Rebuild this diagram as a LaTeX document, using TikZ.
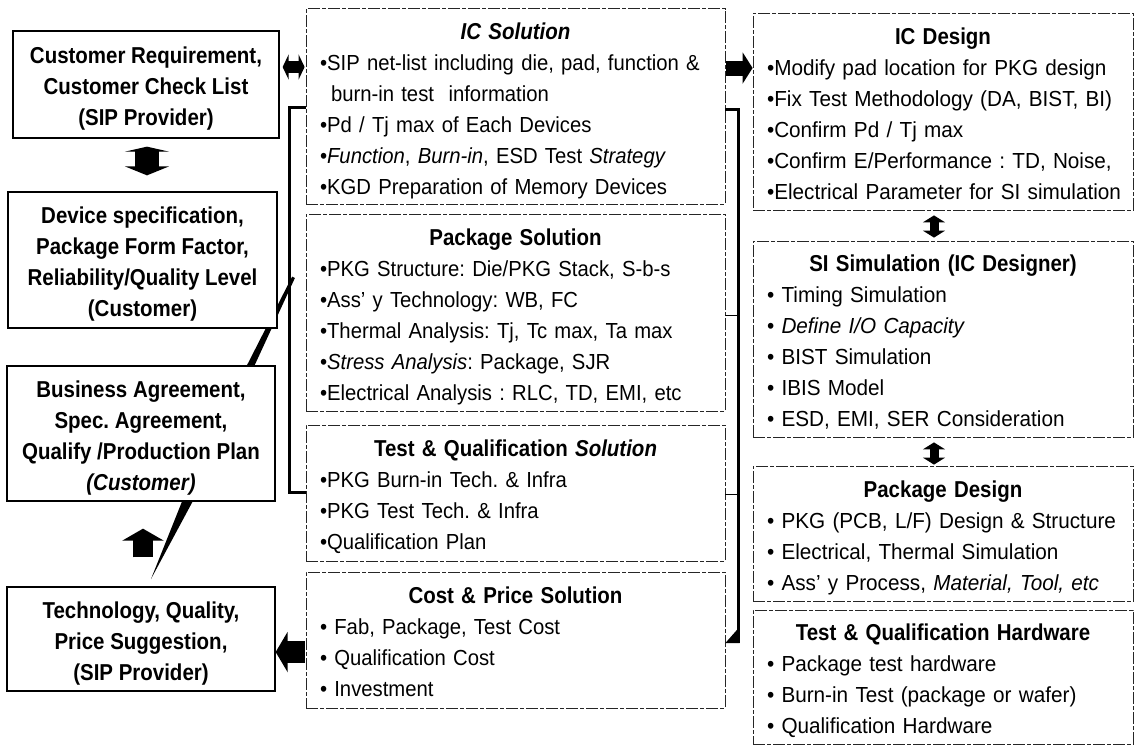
\documentclass[tikz,border=0pt]{standalone}
\usepackage{fontspec}
\setmainfont{Liberation Sans}
\newfontfamily\lbfam[FakeStretch=0.89]{Liberation Sans}
\newfontfamily\mfam[FakeStretch=0.93]{Liberation Sans}
\newfontfamily\rfam[FakeStretch=0.95]{Liberation Sans}
\usetikzlibrary{arrows.meta}
\setlength{\parindent}{0pt}
\frenchspacing
\newcommand{\topst}{\rule{0pt}{25.5pt}}
\newcommand{\dn}{\rule[-5pt]{0pt}{5pt}}
\newcommand{\bt}[1]{{\centering\fontsize{23}{31}\lbfam\bfseries\topst #1\par}}
\begin{document}
\begin{tikzpicture}[x=1pt,y=-1pt,
  lbox/.style={draw, line width=1.3pt, fill=white, inner sep=0pt, align=center,
    font=\fontsize{23}{31}\lbfam\bfseries},
  mbox/.style={draw=black!85, line width=0.8pt, dash pattern=on 12pt off 2pt on 4pt off 2pt,
    fill=white, inner xsep=14pt, inner ysep=0pt, align=left, minimum width=419pt,
    text width=391pt, font=\fontsize{21.8}{31}\mfam},
  rbox/.style={mbox, minimum width=380pt, text width=352pt, font=\fontsize{21.8}{31}\rfam},
  bracket/.style={line width=3pt, line join=miter},
  stub/.style={line width=1pt}]
\fill[white] (0,0) rectangle (1136,745);
\useasboundingbox (0,0) rectangle (1136,745);

% diagonal wedges (behind boxes)
\fill (292.1,276.6) -- (294.9,278.0) -- (253.1,368.6) -- (246.9,365.4) -- cycle;
\fill (183,499) -- (194,499) -- (151,579) -- cycle;

% left column
\node[lbox, minimum width=266pt, minimum height=107pt] (L1) at (146,84.5)
  {\topst Customer Requirement,\\Customer Check List\\(SIP Provider)\dn};
\node[lbox, minimum width=269pt, minimum height=136pt] (L2) at (142.5,260)
  {\topst Device specification,\\Package Form Factor,\\Reliability/Quality Level\\(Customer)\dn};
\node[lbox, minimum width=268pt, minimum height=135pt] (L3) at (141,433.5)
  {\topst Business Agreement,\\Spec. Agreement,\\Qualify /Production Plan\\\textit{(Customer)}\dn};
\node[lbox, minimum width=268pt, minimum height=104pt] (L4) at (141,639)
  {\topst Technology, Quality,\\Price Suggestion,\\(SIP Provider)\dn};

% middle column
\node[mbox, minimum height=195.5pt] (ics) at (515.5,106.25)
  {\bt{\itshape IC Solution}\mbox{•SIP net-list including die, pad, function \&}\\
   \mbox{\hspace*{11pt}burn-in test \ information}\\
   \mbox{•Pd / Tj max of Each Devices}\\
   \mbox{•\textit{Function}, \textit{Burn-in}, ESD Test \textit{Strategy}}\\
   \mbox{•KGD Preparation of Memory Devices}\dn};
\node[mbox, minimum height=197pt] (pks) at (515.5,312.5)
  {\bt{Package Solution}\mbox{•PKG Structure: Die/PKG Stack, S-b-s}\\
   \mbox{•Ass’ y Technology: WB, FC}\\
   \mbox{•Thermal Analysis: Tj, Tc max, Ta max}\\
   \mbox{•\textit{Stress Analysis}: Package, SJR}\\
   \mbox{•Electrical Analysis : RLC, TD, EMI, etc}\dn};
\node[mbox, minimum height=136pt] (tqs) at (515.5,493)
  {\bt{Test \& Qualification \textit{Solution}}\mbox{•PKG Burn-in Tech. \& Infra}\\
   \mbox{•PKG Test Tech. \& Infra}\\
   \mbox{•Qualification Plan}\dn};
\node[mbox, minimum height=136pt] (cps) at (515.5,640)
  {\bt{Cost \& Price Solution}\mbox{• Fab, Package, Test Cost}\\
   \mbox{• Qualification Cost}\\
   \mbox{• Investment}\dn};

% right column
\node[rbox, minimum height=197pt] (icd) at (943,111.5)
  {\bt{IC Design}\mbox{•Modify pad location for PKG design}\\
   \mbox{•Fix Test Methodology (DA, BIST, BI)}\\
   \mbox{•Confirm Pd / Tj max}\\
   \mbox{•Confirm E/Performance : TD, Noise,}\\
   \mbox{•Electrical Parameter for SI simulation}\dn};
\node[rbox, minimum height=196pt] (sis) at (943,339)
  {\bt{SI Simulation (IC Designer)}\mbox{• Timing Simulation}\\
   \mbox{• \textit{Define I/O Capacity}}\\
   \mbox{• BIST Simulation}\\
   \mbox{• IBIS Model}\\
   \mbox{• ESD, EMI, SER Consideration}\dn};
\node[rbox, minimum height=135pt] (pkd) at (943,533.5)
  {\bt{Package Design}\mbox{• PKG (PCB, L/F) Design \& Structure}\\
   \mbox{• Electrical, Thermal Simulation}\\
   \mbox{• Ass’ y Process, \textit{Material, Tool, etc}}\dn};
\node[rbox, minimum height=134pt] (tqh) at (943,677)
  {\bt{Test \& Qualification Hardware}\mbox{• Package test hardware}\\
   \mbox{• Burn-in Test (package or wafer)}\\
   \mbox{• Qualification Hardware}\dn};

% brackets
\coordinate (lb1) at (289,107);
\coordinate (lb2) at (289,492);
\draw[bracket] (ics.west |- lb1) -- (lb1) -- (lb2) -- (tqs.west |- lb2);
\coordinate (rb1) at (738,109);
\coordinate (rb2) at (738,643);
\draw[bracket] (ics.east |- rb1) -- (rb1) -- (rb2);
\coordinate (rb3) at (739.5,627);
\fill (rb3) -- (rb2 -| rb3) -- (cps.east |- rb2) -- cycle;
\coordinate (s1) at (738,315);
\coordinate (s2) at (738,494);
\draw[stub] (pks.east |- s1) -- (s1);
\draw[stub] (tqs.east |- s2) -- (s2);

% block arrows
\coordinate (a1) at (0,67);
\draw[line width=12pt, {Triangle[width=25pt,length=6pt]}-{Triangle[width=25pt,length=6pt]},
  shorten <=3pt, shorten >=1pt] (L1.east |- a1) -- (ics.west |- a1);
\coordinate (a2) at (0,68);
\draw[line width=15pt, -{Triangle[width=31pt,length=10pt]}, shorten <=1pt]
  (ics.east |- a2) -- (icd.west |- a2);
\coordinate (a3) at (147,0);
\draw[line width=24pt, {Triangle[width=44pt,length=5pt]}-{Triangle[width=44pt,length=9pt]},
  shorten <=8pt, shorten >=16pt] (L1.south -| a3) -- (L2.north -| a3);
\coordinate (a4) at (143,0);
\draw[line width=20pt, -{Triangle[width=41pt,length=12pt]}, shorten <=29pt, shorten >=27pt]
  (L4.north -| a4) -- (L3.south -| a4);
\coordinate (a5) at (0,652);
\draw[line width=22pt, -{Triangle[width=40pt,length=12pt]}, shorten <=1pt]
  (cps.west |- a5) -- (L4.east |- a5);
\coordinate (a6) at (934,0);
\draw[line width=9pt, {Triangle[width=22pt,length=7pt]}-{Triangle[width=22pt,length=7pt]},
  shorten <=5pt, shorten >=3pt] (icd.south -| a6) -- (sis.north -| a6);
\draw[line width=9pt, {Triangle[width=22pt,length=7pt]}-{Triangle[width=22pt,length=7pt]},
  shorten <=5pt, shorten >=1pt] (sis.south -| a6) -- (pkd.north -| a6);
\end{tikzpicture}
\end{document}
